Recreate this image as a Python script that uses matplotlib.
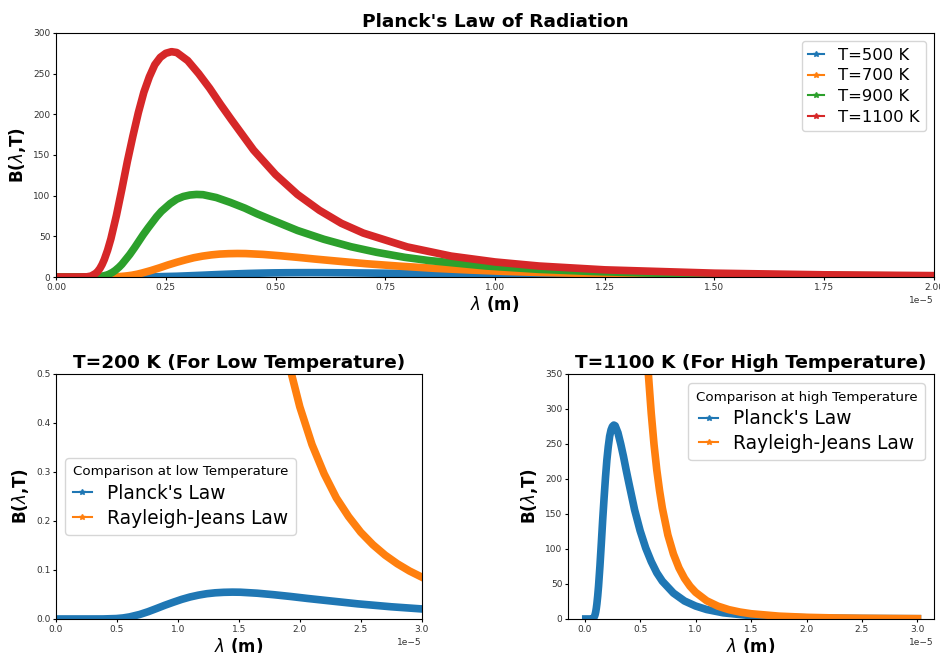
import numpy as np
import matplotlib.pyplot as plt
from matplotlib.lines import Line2D

# wavelengths in micrometres
lam_1100 = [0.1, 0.5, 0.7, 0.8, 0.9, 0.95, 1.0, 1.05, 1.1, 1.175, 1.25, 1.375, 1.5,
            1.625, 1.75, 1.875, 2.0, 2.125, 2.25, 2.375, 2.5, 2.63, 2.75, 3.0, 3.25,
            3.5, 3.75, 4.0, 4.5, 5.0, 5.5, 6.0, 6.5, 7.0, 8.0, 9.0, 10.0, 11.0, 12.5,
            15.0, 17.5, 20.0, 22.5, 25.0, 30.0]
b_1100 = [0, 0, 0.2, 1.2, 4.3, 6.85, 10.5, 15.4, 21.5, 33, 47, 75.5, 108,
          142, 173, 202, 227, 246, 261, 270, 275, 277, 276, 266, 250,
          232, 212, 193, 156, 126, 101.5, 82, 66, 54, 37, 25.7, 18.5, 13.5, 8.8,
          4.7, 2.7, 1.7, 1.1, 0.74, 0.38]

lam_900 = [0.1, 0.85, 1.0, 1.1, 1.16, 1.2, 1.28, 1.35, 1.436, 1.5, 1.68, 1.8, 1.986,
           2.1, 2.29, 2.4, 2.6, 2.75, 2.9, 3.05, 3.2, 3.35, 3.65, 3.97, 4.3, 4.58,
           4.9, 5.5, 6.1, 6.72, 7.3, 7.94, 8.5, 9.8, 11.0, 12.2, 13.4, 15.3, 18.3, 20.0]
b_900 = [0, 0.1, 0.5, 1.6, 2.5, 3.3, 5.5, 8.1, 12.1, 15.6, 27.7, 36.9, 52,
         60.5, 74, 80.7, 90.2, 95.7, 99, 100.8, 101.5, 101.2, 97.7, 91.7, 84.7, 77.7,
         70.5, 57.2, 46.4, 37.2, 30.4, 24.2, 20.2, 13.5, 9.4, 6.8, 5.0, 3.2, 1.7, 1.2]

lam_700 = [0.1, 1.1, 1.41, 1.49, 1.57, 1.65, 1.73, 1.85, 1.96, 2.16, 2.36, 2.55, 2.75,
           2.95, 3.14, 3.34, 3.54, 3.73, 3.93, 4.13, 4.32, 4.71, 5.11, 5.5, 5.89, 6.29,
           7.07, 7.86, 8.64, 9.43, 10.21, 11.0, 12.57, 14.14, 15.71, 17.29, 19.64, 20.0]
b_700 = [0, 0.02, 0.45, 0.72, 1.1, 1.6, 2.2, 3.45, 4.9, 7.9, 11.3, 14.8, 18.1,
         21.1, 23.7, 25.7, 27.2, 28.2, 28.7, 28.9, 28.8, 27.8, 26.1, 24.2, 22.1, 20.1,
         16.3, 13.2, 10.6, 8.6, 6.9, 5.6, 3.86, 2.68, 1.93, 1.41, 0.92, 0.87]

lam_500 = [0.1, 1.54, 1.98, 2.2, 2.75, 3.3, 3.575, 3.85, 4.125, 4.4, 4.675, 4.95, 5.225,
           5.5, 5.79, 6.05, 6.6, 7.15, 7.7, 8.25, 8.8, 9.9, 11.0, 12.1, 13.2, 15.4,
           17.6, 19.8, 20.0]
b_500 = [0, 0.004, 0.083, 0.2, 0.91, 2.09, 2.75, 3.35, 3.91, 4.39, 4.76, 5.05, 5.23,
         5.32, 5.36, 5.34, 5.15, 4.84, 4.49, 4.10, 3.74, 3.02, 2.44, 1.97, 1.59, 1.05,
         0.72, 0.5, 0.49]

lam_200 = [0.1, 2.75, 3.85, 4.95, 5.5, 6.05, 6.875, 7.56, 8.25, 8.94, 9.625, 10.31,
           11.0, 11.69, 12.375, 13.06, 13.75, 14.47, 15.125, 16.5, 17.875, 19.25,
           20.625, 22.0, 24.75, 27.5, 30.0]
b_200 = [0, 0, 0.00005, 0.00085, 0.0021, 0.0043, 0.0093, 0.0149, 0.0214, 0.0281,
         0.0342, 0.0400, 0.0449, 0.0487, 0.0516, 0.0534, 0.0544, 0.0548, 0.0546,
         0.0526, 0.0495, 0.0459, 0.0419, 0.0382, 0.0309, 0.0249, 0.0205]

lam_rj200 = [15.0, 16.0, 17.0, 18.0, 19.0, 20.0, 21.0, 22.0, 23.0, 24.0, 25.0, 26.0,
             27.0, 28.0, 29.0, 30.0]
b_rj200 = [1.37, 1.06, 0.829, 0.66, 0.531, 0.433, 0.356, 0.296, 0.247, 0.209, 0.177,
           0.1515, 0.1303, 0.1127, 0.0979, 0.0855]

lam_rj1100 = [4.5, 5.0, 5.5, 5.75, 6.0, 6.25, 6.5, 6.75, 7.0, 7.5, 8.0, 8.5, 9.0, 9.5,
              10.0, 11.0, 12.0, 13.0, 14.0, 15.0, 17.5, 20.0, 22.5, 25.0, 27.5, 30.0]
b_rj1100 = [928, 609, 416, 348, 294, 249.5, 213, 183.4, 158.5, 120, 92.9, 72.9, 58.0,
            46.7, 38.1, 26.0, 18.4, 13.3, 9.9, 7.5, 4.06, 2.38, 1.49, 0.97, 0.67, 0.47]

temps = ['T=500 K', 'T=700 K', 'T=900 K', 'T=1100 K']
colors = ['#1f77b4', '#ff7f0e', '#2ca02c', '#d62728']

LW = 5.5


def um(v):
    return np.array(v) * 1e-6


def handles(cols, labels):
    return [Line2D([], [], color=c, lw=1.5, marker='*', markersize=4, label=l)
            for c, l in zip(cols, labels)]


fig = plt.figure(figsize=(9.4, 6.53), dpi=100)
bold = dict(fontsize=12, fontweight='bold')
tfont = dict(fontsize=13.3, fontweight='bold')

# top panel
ax = fig.add_axes([0.0596, 0.5758, 0.934, 0.3737])
series = [(lam_500, b_500), (lam_700, b_700), (lam_900, b_900), (lam_1100, b_1100)]
for (lx, by), c in zip(series, colors):
    lx = np.array(lx)
    m = lx <= 20.0
    ax.plot(um(lx[m]), np.array(by)[m], color=c, lw=LW, solid_joinstyle='round')
ax.set_xlim(0, 2e-5)
ax.set_ylim(0, 300)
ax.set_xticks(np.arange(0, 2.01e-5, 0.25e-5))
ax.set_title("Planck's Law of Radiation", pad=4, **tfont)
ax.set_xlabel(r'$\lambda$ (m)', labelpad=2, **bold)
ax.set_ylabel(r'B($\lambda$,T)', **bold)
ax.legend(handles=handles(colors, temps), loc='upper right', fontsize=11.8,
          handlelength=1.0, labelspacing=0.35)

# bottom left: low temperature
ax2 = fig.add_axes([0.0596, 0.0521, 0.389, 0.3752])
ax2.plot(um(lam_200), b_200, color=colors[0], lw=LW, solid_joinstyle='round')
ax2.plot(um(lam_rj200), b_rj200, color=colors[1], lw=LW, solid_joinstyle='round')
ax2.set_xlim(0, 3e-5)
ax2.set_ylim(0, 0.5)
ax2.set_title('T=200 K (For Low Temperature)', pad=4, **tfont)
ax2.set_xlabel(r'$\lambda$ (m)', labelpad=2, **bold)
ax2.set_ylabel(r'B($\lambda$,T)', **bold)
ax2.legend(handles=handles(colors[:2], ["Planck's Law", 'Rayleigh-Jeans Law']),
           loc='center left', fontsize=13.4, title='Comparison at low Temperature',
           title_fontsize=9.6, handlelength=1.0, labelspacing=0.3)

# bottom right: high temperature
ax3 = fig.add_axes([0.6043, 0.0521, 0.3894, 0.3752])
ax3.plot(um(lam_1100), b_1100, color=colors[0], lw=LW, solid_joinstyle='round')
ax3.plot(um(lam_rj1100), b_rj1100, color=colors[1], lw=LW, solid_joinstyle='round')
ax3.set_xlim(-0.15e-5, 3.15e-5)
ax3.set_ylim(0, 350)
ax3.set_title('T=1100 K (For High Temperature)', pad=4, **tfont)
ax3.set_xlabel(r'$\lambda$ (m)', labelpad=2, **bold)
ax3.set_ylabel(r'B($\lambda$,T)', **bold)
ax3.legend(handles=handles(colors[:2], ["Planck's Law", 'Rayleigh-Jeans Law']),
           loc='upper right', fontsize=13.4, title='Comparison at high Temperature',
           title_fontsize=9.6, handlelength=1.0, labelspacing=0.3)

for a in (ax, ax2, ax3):
    a.tick_params(labelsize=6.5, length=2.5, pad=1.5, labelcolor='#333333')
    a.xaxis.get_offset_text().set_fontsize(6.5)

fig.savefig('out.png', dpi=100)
